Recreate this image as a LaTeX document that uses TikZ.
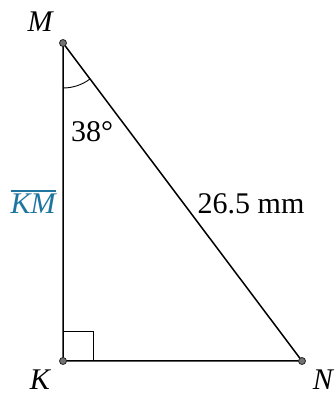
\documentclass[tikz,border=0pt]{standalone}
\usepackage{fontspec}
\usetikzlibrary{calc}
\setmainfont{Liberation Serif}
\definecolor{segblue}{RGB}{30,118,160}
\newcommand{\segbar}[1]{{\setbox0\hbox{#1}\vbox{\hrule width\wd0 height 1.2pt\kern2.5pt\box0}}}
\begin{document}
\begin{tikzpicture}[x=1pt, y=1pt, every node/.style={font=\fontsize{30}{33}\selectfont},
side/.style={line width=1.5pt, draw=black},
vtx/.style={circle, fill=black!55, draw=black!85, line width=0.8pt, inner sep=0pt, minimum size=7pt},
lbl/.style={font=\fontsize{30}{33}\selectfont\itshape}]
\useasboundingbox (0,0) rectangle (336,396);
\coordinate (M) at (63,353);
\coordinate (K) at (63,35);
\coordinate (N) at (302,35);
\draw[side] (M)--(K)--(N)--cycle;
% right angle and angle marks
\draw[line width=0.9pt] ($(K)+(0,30)$) -| ($(K)+(30,0)$);
\draw[line width=0.9pt] ($(M)+(0,-45)$) arc[start angle=-90, end angle=-53, radius=45];
\node[vtx] (m) at (M) {};
\node[vtx] (k) at (K) {};
\node[vtx] (n) at (N) {};
\node[lbl] (mlab) at (40,374) {M};
\node[lbl] (klab) at (40,16) {K};
\node[lbl] (nlab) at (323,16) {N};
\node (ang) at (92,264) {38°};
\node[lbl, text=segblue] (km) at (33,194) {\segbar{KM}};
\node (hyp) at (251,192) {26.5 mm};
\end{tikzpicture}
\end{document}
